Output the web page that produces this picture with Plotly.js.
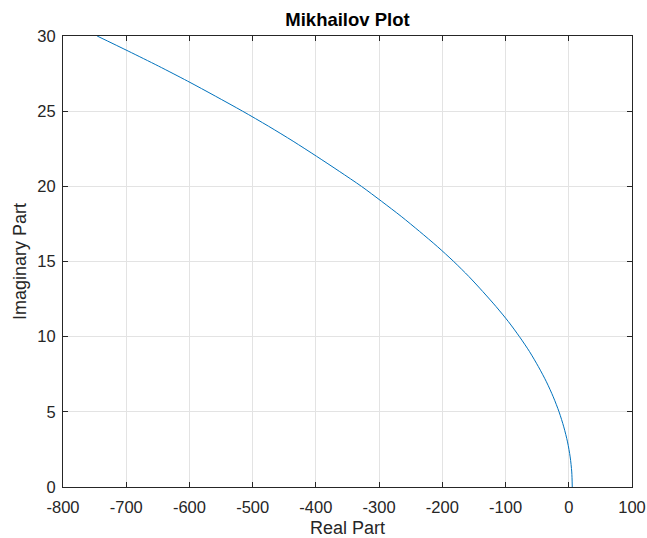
<!DOCTYPE html>
<html>
<head>
<meta charset="utf-8">
<script src="https://cdn.plot.ly/plotly-3.0.1.min.js"></script>
<style>html,body{margin:0;padding:0;background:#fff;}#chart{width:647px;height:538px;}</style>
</head>
<body>
<div id="chart"></div>
<script>
// Values
const imagPart = [0, 1, 2, 3, 4, 5, 6, 7, 8, 9, 10, 11, 12, 13, 14, 15, 16, 17, 18, 19, 20, 21, 22, 23, 24, 25, 26, 27, 28, 29, 30];
const realPart = [5.5, 4.7, 2.2, -2, -7.9, -15.4, -24.6, -35.4, -48, -62, -78, -95.5, -115, -136, -158, -182, -208, -236, -265, -296, -328, -363, -399, -436, -475, -516, -559, -603, -649, -697, -746];
const xTicks = [-800, -700, -600, -500, -400, -300, -200, -100, 0, 100];
const yTicks = [0, 5, 10, 15, 20, 25, 30];

const FONT = '"Liberation Sans", Arial, Helvetica, sans-serif';
const axisCommon = {
  ticks: 'inside', ticklen: 5, tickwidth: 1, tickcolor: '#262626',
  mirror: 'ticks', showline: true, linecolor: '#262626', linewidth: 1,
  showgrid: true, gridcolor: '#e3e3e3', gridwidth: 1, zeroline: false,
  tickfont: {family: FONT, size: 16.5, color: '#262626'},
  tickmode: 'array'
};

Plotly.newPlot('chart', [{
  x: realPart, y: imagPart, type: 'scatter', mode: 'lines',
  line: {color: '#0072BD', width: 1, shape: 'spline', smoothing: 0.8},
  hoverinfo: 'skip'
}], {
  width: 647, height: 538,
  margin: {l: 63, r: 15, t: 36, b: 51},
  paper_bgcolor: '#ffffff', plot_bgcolor: '#ffffff',
  showlegend: false,
  title: {text: '<b>Mikhailov Plot</b>', font: {family: FONT, size: 18.5, color: '#000'},
          xref: 'paper', x: 0.5, xanchor: 'center', yref: 'container', y: 1 - 20/538, yanchor: 'middle'},
  xaxis: Object.assign({}, axisCommon, {
    range: [-800, 100], tickvals: xTicks, ticktext: xTicks.map(String), ticklabelstandoff: 5,
    title: {text: 'Real Part', font: {family: FONT, size: 18, color: '#262626'}, standoff: 8}
  }),
  yaxis: Object.assign({}, axisCommon, {
    range: [0, 30], tickvals: yTicks, ticktext: yTicks.map(String), ticklabelstandoff: 3,
    title: {text: 'Imaginary Part', font: {family: FONT, size: 18, color: '#262626'}, standoff: 6}
  })
}, {staticPlot: true, displayModeBar: false});
</script>
</body>
</html>
